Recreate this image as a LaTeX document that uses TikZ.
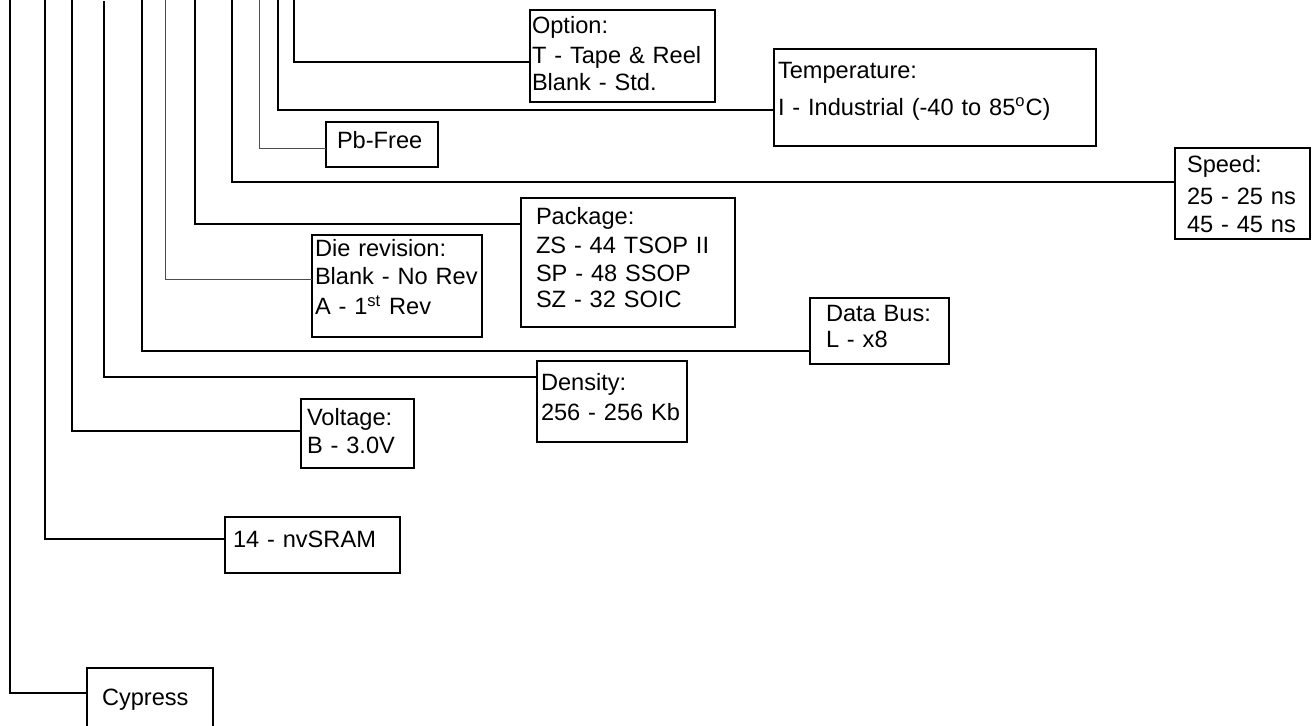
\documentclass[tikz,border=0pt]{standalone}
\usepackage{fontspec}
\setmainfont{Liberation Sans}

\colorlet{leadcol}{black}
\colorlet{thincol}{black!70}

\begin{document}
\begin{tikzpicture}[x=0.5pt, y=-0.5pt,
          field/.style={draw=leadcol, line width=1pt, anchor=base west, align=left,
                        font=\fontsize{11.8}{14}\selectfont, inner ysep=0, outer sep=0},
          lead/.style={draw=leadcol, line width=1pt},
          thinlead/.style={draw=thincol, line width=0.5pt}
        ]
        \useasboundingbox (0,0) rectangle (1312,725);

        % ---- field boxes (placed at first baseline) ----
        \node[field, inner xsep=1pt, text width=90.5pt, text height=11.5pt, text depth=34.5pt]
          (opt) at (530,33) {Option:\\[1pt] T - Tape \& Reel\\[-0.5pt] Blank - Std.};
        \node[field, inner xsep=2pt, text width=157pt, text height=14.75pt, text depth=33.75pt]
          (temp) at (774,78.5) {Temperature:\\[4.25pt] I - Industrial (-40 to 85\textsuperscript{o}C)};
        \node[field, inner xsep=5.5pt, text width=45pt, text height=13pt, text depth=9.5pt]
          (pb) at (326,148) {Pb-Free};
        \node[field, inner xsep=6pt, text width=55.5pt, text height=12pt, text depth=33.5pt]
          (speed) at (1175,172) {Speed:\\[2pt] 25 - 25 ns\\ 45 - 45 ns};
        \node[field, inner xsep=7.5pt, text width=92pt, text height=13pt, text depth=51.5pt]
          (pkg) at (521,224) {Package:\\[0.5pt] ZS - 44 TSOP II\\ SP - 48 SSOP\\[-1pt] SZ - 32 SOIC};
        \node[field, inner xsep=1.5pt, text width=82pt, text height=10.85pt, text depth=40.15pt]
          (die) at (312,256.7) {Die revision:\\ Blank - No Rev\\[1pt] A - 1\textsuperscript{st} Rev};
        \node[field, inner xsep=8pt, text width=53.5pt, text height=11.85pt, text depth=21.15pt]
          (bus) at (810,321.7) {Data Bus:\\[-1.35pt] L - x8};
        \node[field, inner xsep=2pt, text width=71pt, text height=14.5pt, text depth=26pt]
          (dens) at (537,390) {Density:\\[1.35pt] 256 - 256 Kb};
        \node[field, inner xsep=3pt, text width=50.5pt, text height=13pt, text depth=21.5pt]
          (volt) at (301,425) {Voltage:\\ B - 3.0V};
        \node[field, inner xsep=4pt, text width=79.5pt, text height=15.35pt, text depth=12.65pt]
          (sram) at (225,547.7) {14 - nvSRAM};
        \node[field, inner xsep=7.5pt, text width=48pt, text height=18.5pt, text depth=12.5pt]
          (cyp) at (87,705) {Cypress};

        % ---- tops of the leads ----
        \coordinate (tOpt)   at (294,0);
        \coordinate (tTemp)  at (278,0);
        \coordinate (tPb)    at (259,0);
        \coordinate (tSpeed) at (232,0);
        \coordinate (tPkg)   at (195,0);
        \coordinate (tDie)   at (165,0);
        \coordinate (tBus)   at (142,0);
        \coordinate (tDens)  at (104,1);
        \coordinate (tVolt)  at (72,0);
        \coordinate (tSram)  at (45,0);
        \coordinate (tCyp)   at (10,0);

        % ---- leads ----
        \draw[lead]     (tOpt)   |- (opt.west |- 0,62);
        \draw[lead]     (tTemp)  |- (temp.west |- 0,110);
        \draw[thinlead] (tPb)    |- (pb.west |- 0,148);
        \draw[lead]     (tSpeed) |- (speed.west |- 0,182);
        \draw[lead]     (tPkg)   |- (pkg.west |- 0,224);
        \draw[thinlead] (tDie)   |- (die.west |- 0,279);
        \draw[lead]     (tBus)   |- (bus.west |- 0,351);
        \draw[lead]     (tDens)  |- (dens.west |- 0,377);
        \draw[lead]     (tVolt)  |- (volt.west |- 0,431);
        \draw[lead]     (tSram)  |- (sram.west |- 0,539);
        \draw[lead]     (tCyp)   |- (cyp.west |- 0,693);

      \end{tikzpicture}
\end{document}
